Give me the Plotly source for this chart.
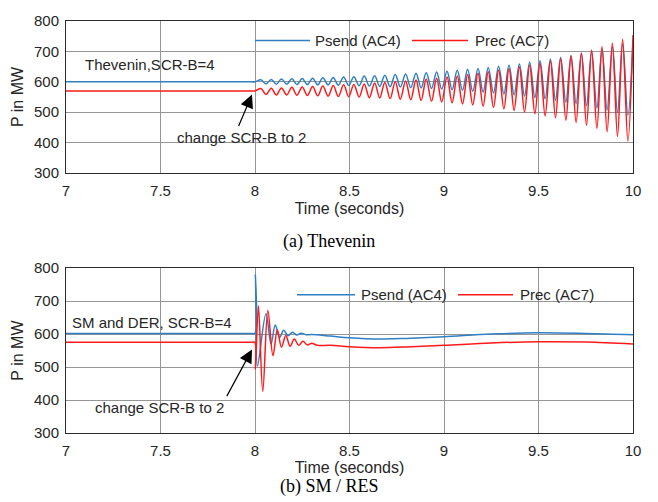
import plotly.graph_objects as go

# ---------------- data ----------------
x_ticks = [7, 7.5, 8, 8.5, 9, 9.5, 10]
x_tick_labels = ["7", "7.5", "8", "8.5", "9", "9.5", "10"]
y_ticks = [300, 400, 500, 600, 700, 800]
series_names = ["Psend (AC4)", "Prec (AC7)"]

# (a) Thevenin: steady state, then alternating peaks / troughs of the growing oscillation
a_time = [7.0, 7.98, 8.0,
          8.031, 8.058, 8.086, 8.113, 8.140, 8.168, 8.195, 8.222, 8.250, 8.277,
          8.305, 8.332, 8.359, 8.387, 8.414, 8.441, 8.469, 8.496, 8.523, 8.551,
          8.578, 8.605, 8.633, 8.660, 8.687, 8.715, 8.742, 8.769, 8.797, 8.824,
          8.852, 8.879, 8.906, 8.934, 8.961, 8.988, 9.016, 9.043, 9.070, 9.098,
          9.125, 9.152, 9.180, 9.207, 9.234, 9.262, 9.289, 9.317, 9.344, 9.371,
          9.399, 9.426, 9.453, 9.481, 9.508, 9.535, 9.563, 9.590, 9.617, 9.645,
          9.672, 9.699, 9.727, 9.754, 9.781, 9.809, 9.836, 9.863, 9.891, 9.918,
          9.945, 9.973, 10.000]
a_psend = [600, 600, 600,
           607, 593, 608, 592, 609, 592, 610, 591, 611, 591,
           612, 590, 613, 590, 614, 589, 616, 588, 617, 587,
           619, 586, 620, 585, 622, 584, 624, 583, 626, 581,
           628, 580, 630, 578, 632, 576, 635, 574, 638, 572,
           641, 569, 644, 566, 647, 563, 651, 560, 655, 557,
           659, 553, 664, 548, 669, 544, 674, 539, 680, 533,
           686, 528, 693, 521, 700, 514, 708, 507, 716, 499,
           725, 490, 735]
a_prec = [570, 570, 570,
          578, 558, 579, 557, 580, 557, 582, 556, 583, 555,
          585, 554, 586, 553, 588, 552, 590, 551, 591, 550,
          593, 548, 596, 547, 598, 545, 600, 543, 603, 541,
          606, 539, 609, 536, 612, 534, 616, 531, 619, 527,
          624, 524, 628, 520, 633, 516, 638, 511, 643, 506,
          649, 501, 655, 495, 662, 488, 669, 482, 677, 474,
          686, 466, 695, 457, 705, 447, 716, 436, 728, 420,
          740, 405, 754]

# (b) SM / RES: damped transient after the SCR change
b_time_send = [7.0, 7.98, 7.999, 8.002, 8.005, 8.013, 8.058, 8.085, 8.107, 8.130,
               8.152, 8.175, 8.198, 8.221, 8.244, 8.27, 8.30, 8.40, 8.50, 8.65,
               8.80, 9.00, 9.25, 9.50, 9.75, 10.0]
b_psend = [602, 602, 602, 780, 688, 503, 662, 570, 628, 590,
           612, 595, 606, 597, 603, 598, 599, 594, 589, 585,
           587, 592, 600, 604, 602, 598]
b_time_rec = [7.0, 7.98, 7.999, 8.002, 8.018, 8.041, 8.068, 8.095, 8.118, 8.140,
              8.163, 8.186, 8.208, 8.231, 8.254, 8.277, 8.30, 8.33, 8.40, 8.50,
              8.65, 8.80, 9.00, 9.25, 9.50, 9.75, 10.0]
b_prec = [575, 575, 575, 494, 686, 426, 672, 535, 613, 560,
          596, 563, 585, 566, 578, 567, 572, 566, 566, 562,
          559, 561, 566, 573, 577, 576, 570]

# ---------------- layout helpers ----------------
W, H = 658, 502
ML, MR, MT, MB = 66, 25, 13, 69
PW = W - ML - MR
PH = H - MT - MB


def px_x(px):
    return (px - ML) / PW


def px_y(py):
    return (H - MB - py) / PH


BLUE = "#2f7fc4"
RED = "#ff1a1a"
GRID = "#959595"
AXC = "#2b2b2b"
TXT = "#262626"
SANS = "Liberation Sans, Arial, sans-serif"
SERIF = "Liberation Serif, Times New Roman, serif"

fig = go.Figure()
panels = [
    ("x", "y", a_time, a_psend, a_time, a_prec),
    ("x2", "y2", b_time_send, b_psend, b_time_rec, b_prec),
]
for xa, ya, ts, ps, tr, pr in panels:
    fig.add_trace(go.Scatter(x=ts, y=ps, xaxis=xa, yaxis=ya, mode="lines",
                             name=series_names[0], showlegend=False,
                             line=dict(color=BLUE, width=1.5, shape="spline", smoothing=1)))
    fig.add_trace(go.Scatter(x=tr, y=pr, xaxis=xa, yaxis=ya, mode="lines",
                             name=series_names[1], showlegend=False,
                             line=dict(color=RED, width=1.5, shape="spline", smoothing=1)))

top_dom = [px_y(168), 1.0]
bot_dom = [0.0, px_y(265)]

axis_common = dict(
    range=[7, 10], tickvals=x_ticks, ticktext=x_tick_labels,
    showgrid=True, gridcolor=GRID, gridwidth=1,
    showline=True, linecolor=AXC, linewidth=1, mirror=True,
    ticks="", zeroline=False,
    tickfont=dict(family=SANS, size=15, color=TXT),
    ticklabelstandoff=4,
)
yaxis_common = dict(
    range=[300, 800], tickvals=y_ticks,
    showgrid=True, gridcolor=GRID, gridwidth=1,
    showline=True, linecolor=AXC, linewidth=1, mirror=True,
    ticks="", zeroline=False,
    tickfont=dict(family=SANS, size=15, color=TXT),
    ticklabelstandoff=3,
)

fig.update_layout(
    width=W, height=H,
    margin=dict(l=ML, r=MR, t=MT, b=MB),
    paper_bgcolor="white", plot_bgcolor="white",
    showlegend=False,
    xaxis=dict(domain=[0, 1], anchor="y",
               title=dict(text="Time (seconds)", font=dict(family=SANS, size=16, color=TXT), standoff=4),
               **axis_common),
    yaxis=dict(domain=top_dom, anchor="x",
               title=dict(text="P in MW", font=dict(family=SANS, size=16, color=TXT), standoff=6),
               **yaxis_common),
    xaxis2=dict(domain=[0, 1], anchor="y2",
                title=dict(text="Time (seconds)", font=dict(family=SANS, size=16, color=TXT), standoff=0),
                **axis_common),
    yaxis2=dict(domain=bot_dom, anchor="x2",
                title=dict(text="P in MW", font=dict(family=SANS, size=16, color=TXT), standoff=6),
                **yaxis_common),
)

shapes = []
annotations = []

# gaps in the 700 grid line behind the legend boxes
for (x0, x1, yref) in [(250, 552, "y"), (285, 620, "y2")]:
    shapes.append(dict(type="line", xref="paper", yref=yref,
                       x0=px_x(x0), x1=px_x(x1), y0=y_ticks[4], y1=y_ticks[4],
                       line=dict(color="white", width=2), layer="between"))

# manual legends (line sample + label)
legend_rows = [
    (33, [(255, 310, 313, BLUE, series_names[0]), (412, 468, 473, RED, series_names[1])]),
    (292, [(297, 355, 359, BLUE, series_names[0]), (458, 513, 518, RED, series_names[1])]),
]
for ypx, items in legend_rows:
    for lx0, lx1, tx, col, name in items:
        shapes.append(dict(type="line", xref="paper", yref="paper",
                           x0=px_x(lx0), x1=px_x(lx1), y0=px_y(ypx), y1=px_y(ypx),
                           line=dict(color=col, width=1.5), layer="above"))
        annotations.append(dict(xref="paper", yref="paper", x=px_x(tx), y=px_y(ypx),
                                text=name, showarrow=False, xanchor="left", yanchor="middle",
                                font=dict(family=SANS, size=15, color=TXT)))

# text labels
labels = [
    ("Thevenin,SCR-B=4", 150, 57),
    ("change SCR-B to 2", 241, 132),
    ("SM and DER, SCR-B=4", 152, 320),
    ("change SCR-B to 2", 159, 407),
]
for txt, cx, cy in labels:
    annotations.append(dict(xref="paper", yref="paper", x=px_x(cx), y=px_y(cy),
                            text=txt, showarrow=False, xanchor="center", yanchor="middle",
                            font=dict(family=SANS, size=15, color=TXT)))

# arrows
for hx, hy, tx, ty in [(252, 88, 238, 121), (252, 348, 226, 396)]:
    annotations.append(dict(xref="paper", yref="paper", x=px_x(hx), y=px_y(hy),
                            ax=tx - hx, ay=ty - hy, axref="pixel", ayref="pixel",
                            text="", showarrow=True, arrowhead=2, arrowsize=2.2,
                            arrowwidth=1.2, arrowcolor="black", standoff=0, startstandoff=0))

# captions
for txt, cy in [("(a) Thevenin", 238), ("(b) SM / RES", 488)]:
    annotations.append(dict(xref="paper", yref="paper", x=px_x(329), y=px_y(cy),
                            text=txt, showarrow=False, xanchor="center", yanchor="middle",
                            font=dict(family=SERIF, size=18, color="black")))

fig.update_layout(shapes=shapes, annotations=annotations)
fig.write_html("out.html")
